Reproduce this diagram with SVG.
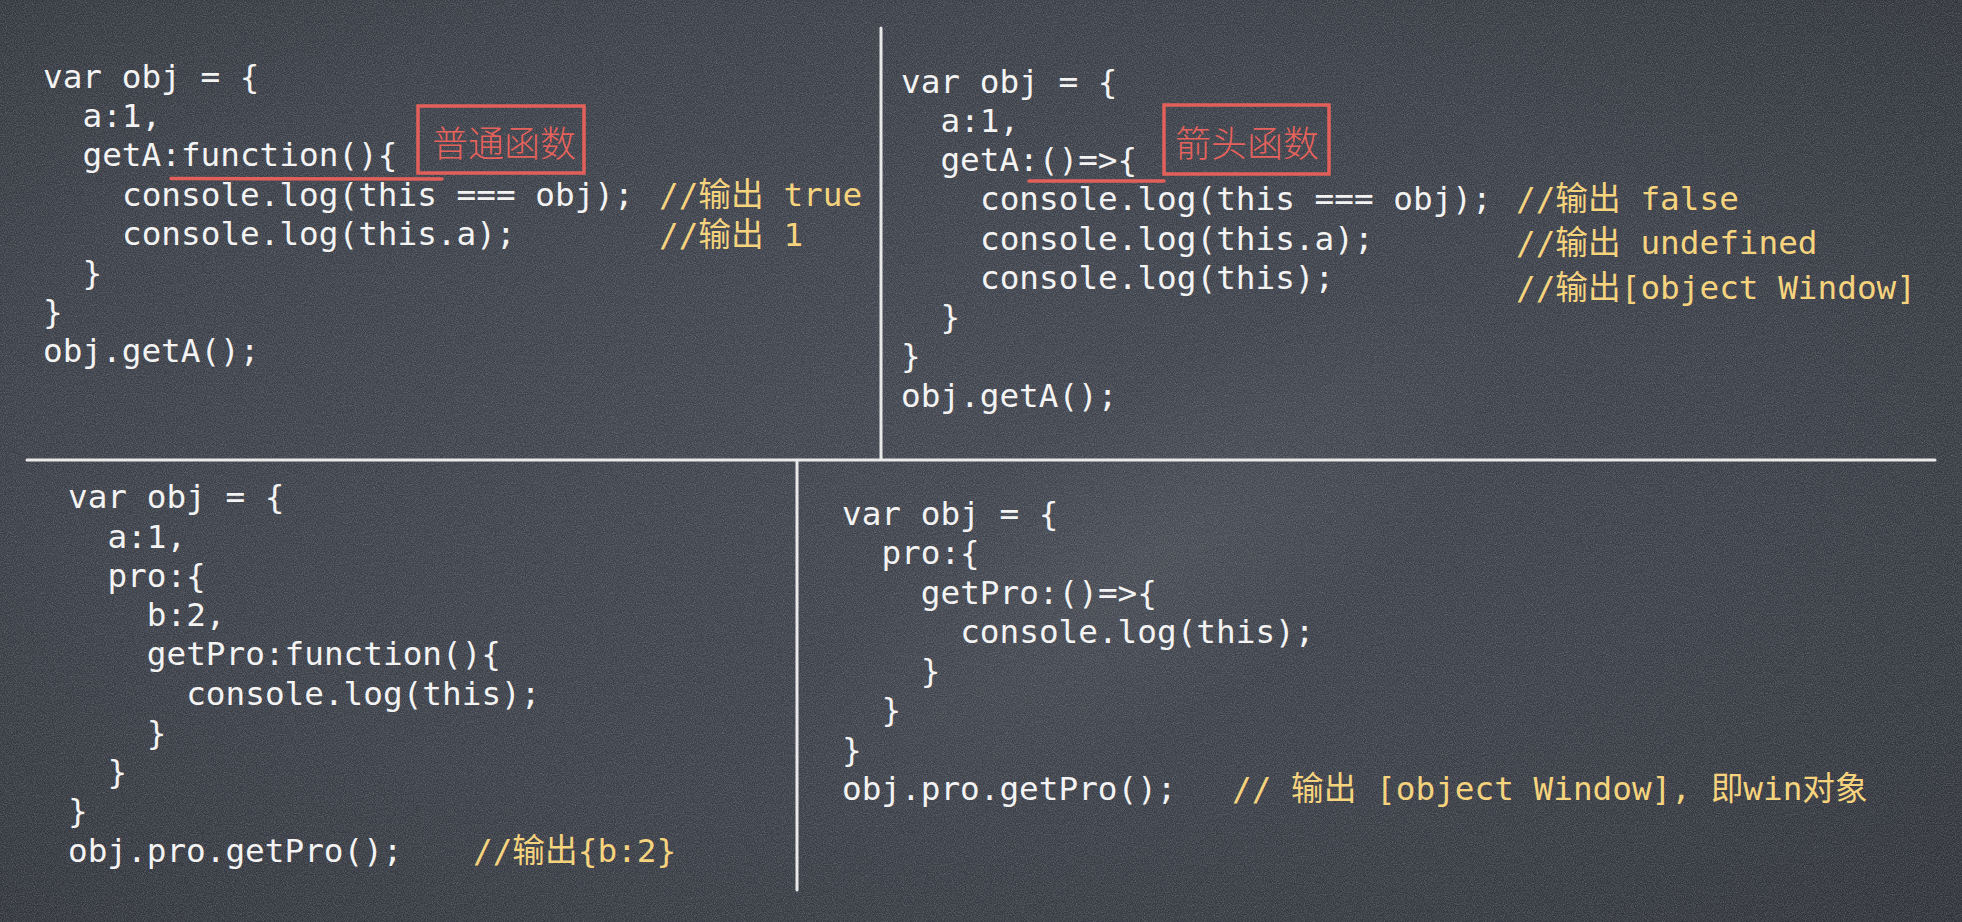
<svg xmlns="http://www.w3.org/2000/svg" width="1962" height="922" viewBox="0 0 1962 922">
<defs>
<radialGradient id="bg" cx="45%" cy="45%" r="80%">
<stop offset="0" stop-color="#40444e"/>
<stop offset="0.55" stop-color="#3a3e47"/>
<stop offset="1" stop-color="#2d3037"/>
</radialGradient>
<radialGradient id="smudge" cx="50%" cy="50%" r="50%">
<stop offset="0" stop-color="#ffffff" stop-opacity="0.05"/>
<stop offset="1" stop-color="#ffffff" stop-opacity="0"/>
</radialGradient>
<filter id="grain" x="0" y="0" width="100%" height="100%">
<feTurbulence type="fractalNoise" baseFrequency="0.9" numOctaves="2" seed="7"/>
<feColorMatrix type="matrix" values="0 0 0 0 1  0 0 0 0 1  0 0 0 0 1  0.4 0 0 0 -0.14"/>
</filter>
<style>
.code{font-family:"DejaVu Sans Mono","Noto Sans CJK SC",monospace;font-size:32.7px;fill:#f3f3f3}
.cmt{font-family:"DejaVu Sans Mono","Noto Sans CJK SC",monospace;font-size:32.7px;fill:#f6d47e}
.tag{font-family:"Noto Sans CJK SC",sans-serif;font-size:36px;font-weight:300;fill:#e6625c}
.box{fill:none;stroke:#e3605a;stroke-width:3.5}
.ul{fill:none;stroke:#e3605a;stroke-width:3.5;stroke-linecap:round}
.chalk{fill:none;stroke:#e9e9e9;stroke-width:3;stroke-linecap:round}
</style>
</defs>
<rect width="1962" height="922" fill="url(#bg)"/>
<ellipse cx="1150" cy="560" rx="420" ry="160" transform="rotate(-35 1150 560)" fill="url(#smudge)"/>
<rect width="1962" height="922" filter="url(#grain)"/>

<g id="connectors">
<line class="chalk" x1="881" y1="28" x2="881" y2="459"/>
<line class="chalk" x1="27" y1="460" x2="1935" y2="460"/>
<line class="chalk" x1="797" y1="461" x2="797" y2="890"/>
</g>

<g id="panel-function">
<text class="code" x="43" y="88.3">var obj = {</text>
<text class="code" x="82.5" y="127.4">a:1,</text>
<text class="code" x="82.5" y="166.4">getA:function(){</text>
<text class="code" x="122" y="205.5">console.log(this === obj);</text>
<text class="code" x="122" y="244.5">console.log(this.a);</text>
<text class="code" x="82.5" y="283.6">}</text>
<text class="code" x="43" y="322.6">}</text>
<text class="code" x="43" y="361.7">obj.getA();</text>
<text class="cmt" x="659" y="205.5">//输出 true</text>
<text class="cmt" x="659" y="246">//输出 1</text>
<path class="ul" d="M171 178.5 L442 179"/>
<rect class="box" x="418" y="106" width="166" height="67"/>
<text class="tag" x="432" y="157">普通函数</text>
</g>

<g id="panel-arrow">
<text class="code" x="901" y="92.7">var obj = {</text>
<text class="code" x="940.4" y="131.9">a:1,</text>
<text class="code" x="940.4" y="171.2">getA:()=&gt;{</text>
<text class="code" x="980" y="210.4">console.log(this === obj);</text>
<text class="code" x="980" y="249.7">console.log(this.a);</text>
<text class="code" x="980" y="288.9">console.log(this);</text>
<text class="code" x="940.4" y="328.2">}</text>
<text class="code" x="901" y="367.4">}</text>
<text class="code" x="901" y="406.7">obj.getA();</text>
<text class="cmt" x="1516" y="209.5">//输出 false</text>
<text class="cmt" x="1516" y="254.3">//输出 undefined</text>
<text class="cmt" x="1516" y="299.3">//输出[object Window]</text>
<path class="ul" d="M1029 181 L1164 181"/>
<rect class="box" x="1164" y="105" width="165" height="69"/>
<text class="tag" x="1175" y="157">箭头函数</text>
</g>

<g id="panel-nested-function">
<text class="code" x="68" y="508.3">var obj = {</text>
<text class="code" x="107.4" y="547.6">a:1,</text>
<text class="code" x="107.4" y="586.8">pro:{</text>
<text class="code" x="146.8" y="626.1">b:2,</text>
<text class="code" x="146.8" y="665.4">getPro:function(){</text>
<text class="code" x="186.2" y="704.6">console.log(this);</text>
<text class="code" x="146.8" y="743.9">}</text>
<text class="code" x="107.4" y="783.2">}</text>
<text class="code" x="68" y="822.4">}</text>
<text class="code" x="68" y="861.7">obj.pro.getPro();</text>
<text class="cmt" x="473" y="861.7">//输出{b:2}</text>
</g>

<g id="panel-nested-arrow">
<text class="code" x="842" y="525">var obj = {</text>
<text class="code" x="881.4" y="564.3">pro:{</text>
<text class="code" x="920.8" y="603.6">getPro:()=&gt;{</text>
<text class="code" x="960.2" y="642.9">console.log(this);</text>
<text class="code" x="920.8" y="682.1">}</text>
<text class="code" x="881.4" y="721.4">}</text>
<text class="code" x="842" y="760.7">}</text>
<text class="code" x="842" y="800">obj.pro.getPro();</text>
<text class="cmt" x="1232" y="800">// 输出 [object Window], 即win对象</text>
</g>
</svg>
